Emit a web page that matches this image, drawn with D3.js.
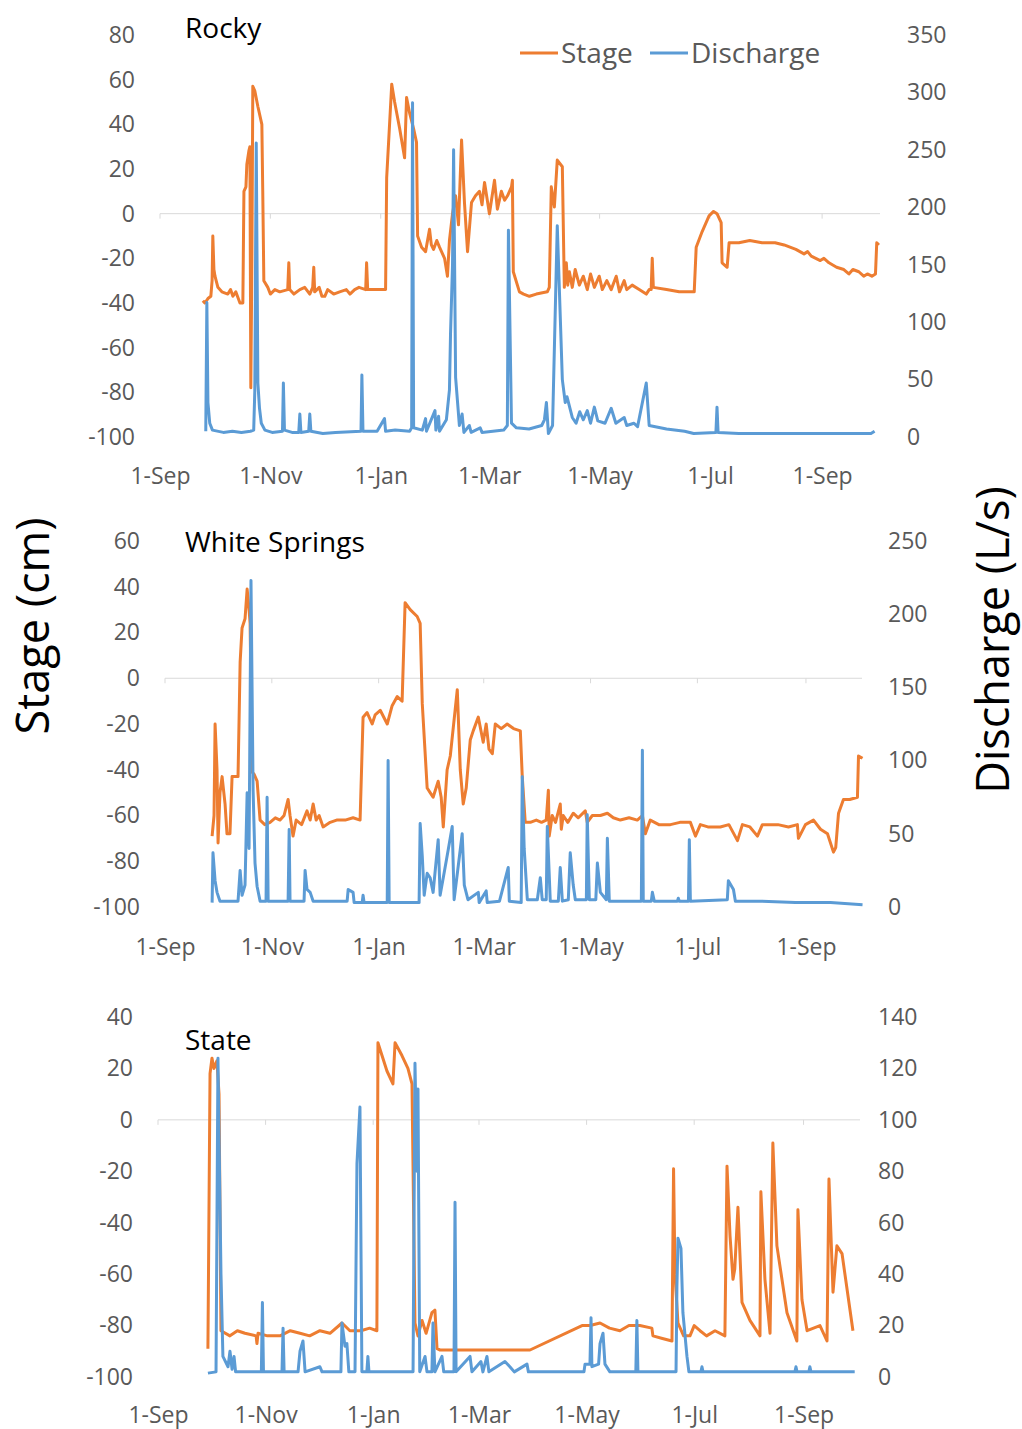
<!DOCTYPE html>
<html>
<head>
<meta charset="utf-8">
<script src="https://cdn.jsdelivr.net/npm/d3@7"></script>
<style>
  body { margin: 0; background: #fff; }
  svg { display: block; font-family: "Open Sans", sans-serif; }
</style>
</head>
<body>
<div id="chart"></div>
<script>
// Record starts 1 Sep 2015; x values are days since then
const startDate = '2015-09-01';
const tickDates = ['2015-09-01', '2015-11-01', '2016-01-01', '2016-03-01', '2016-05-01', '2016-07-01', '2016-09-01'];
const axisEnd = 398;

const panelNames = ['Rocky', 'White Springs', 'State'];
const stageTicks = [
    [80, 60, 40, 20, 0, -20, -40, -60, -80, -100],
    [60, 40, 20, 0, -20, -40, -60, -80, -100],
    [40, 20, 0, -20, -40, -60, -80, -100]
];
const dischargeTicks = [
    [0, 50, 100, 150, 200, 250, 300, 350],
    [0, 50, 100, 150, 200, 250],
    [0, 20, 40, 60, 80, 100, 120, 140]
];

// [day, stage cm]
const rockyStage = [[23.7,-39],[24.8,-40],[26.5,-38],[28.1,-37],[28.8,-30],[29.2,-10],[29.8,-25],[30.4,-28],[32,-33],[34.2,-35],[37.5,-36],[39,-34],[40.3,-37],[41.9,-35],[44.2,-40],[45.8,-40],[46.4,10],[47.5,12],[48,22],[49.1,28],[49.7,30],[50.2,-78],[50.8,-20],[51.3,57],[52.4,55],[54.1,48],[56.3,40],[56.8,10],[57.4,-30],[59.6,-33],[61,-36],[63.5,-34],[66.2,-35],[70.6,-34],[71.2,-22],[71.7,-34],[74,-36],[77.3,-34],[80,-33],[82.8,-36],[84.4,-33],[85,-24],[85.5,-35],[88,-33],[89.5,-37],[91.1,-37],[92.7,-34],[96,-36],[99.3,-35],[103,-34],[105,-36],[107.6,-34],[110,-33],[113.7,-34],[114.2,-22],[114.8,-34],[118,-34],[121.4,-34],[124.7,-34],[125.3,16],[126.9,40],[128.1,58],[129.7,50],[132.5,38],[135.2,25],[136.3,52],[138,45],[140.2,38],[141.8,32],[142.4,-10],[144.6,-15],[146.8,-17],[149,-7],[150,-14],[151.2,-16],[153,-12],[154.5,-15],[157.3,-20],[158.9,-28],[160,-12],[161.7,0],[163.4,8],[165,-5],[166.7,33],[168.3,5],[170,-17],[172.2,5],[174.4,8],[176.6,10],[178,4],[179.4,14],[182.1,0],[184.9,15],[186.5,2],[188.7,10],[190.5,6],[192.1,8],[194.3,12],[194.8,15],[195.3,-26],[198.7,-35],[201,-36],[204.2,-37],[208,-36],[214.1,-35],[215.2,-33],[216.3,12],[218,3],[219.6,24],[222.4,21],[223.5,-33],[224.6,-22],[225.4,-32],[226.3,-26],[227.9,-33],[229.5,-25],[231.8,-32],[234,-28],[236.2,-34],[238,-27],[240.1,-33],[242.8,-28],[244.5,-34],[247,-30],[249.4,-34],[252.2,-28],[254,-35],[256.6,-30],[258,-34],[261,-32],[264.9,-34],[268.8,-36],[270.4,-34],[271.5,-34],[272.1,-20],[272.7,-33],[280,-34],[287,-35],[292.5,-35],[295.3,-35],[296.4,-15],[299.7,-8],[303.5,-1],[306,1],[307.9,0],[310.2,-4],[310.7,-22],[313.5,-24],[314.6,-13],[320,-13],[326,-12],[332.8,-13],[340,-13],[345,-14],[351.5,-16],[356,-18],[358,-17],[360,-19],[365,-21],[367,-20],[369.8,-22],[374,-24],[378,-25],[380.8,-27],[383,-25],[386.3,-26],[389,-28],[391,-27],[393.5,-28],[395.5,-27],[396.2,-13],[397.4,-14]];

// [day, discharge L/s]
const rockyDischarge = [[25.3,5],[25.9,117],[26.5,30],[27.5,12],[29,6],[35,4],[40,5],[45,4],[50,5],[51.8,6],[52.4,40],[53.2,256],[54.1,47],[55,25],[56,12],[58,6],[62,4],[67.7,5],[68.2,47],[68.8,6],[73,4],[76.7,4],[77.3,20],[77.9,4],[82.2,5],[82.8,20],[83.4,5],[90,3],[97,4],[111.1,5],[111.6,54],[112.2,5],[120,5],[124.1,16],[124.7,5],[130,6],[138,5],[139.1,8],[139.6,291],[140.2,8],[145,6],[146.8,16],[147.3,5],[152,23],[152.5,6],[154,18],[154.5,5],[158.3,15],[160,41],[160.6,90],[161.7,150],[162.3,250],[163.4,52],[164.5,30],[165.5,10],[167,20],[168,4],[171,10],[172,4],[177,8],[178,4],[190,6],[192,10],[192.6,180],[194.3,12],[197,8],[204,7],[211,10],[212.5,15],[213.6,30],[214.7,3],[217,10],[219.6,184],[222.4,50],[224,30],[225,35],[227.9,17],[230,12],[232,22],[234,15],[236.2,23],[238,12],[240.1,26],[242,14],[246,12],[249.4,25],[252,12],[256.6,17],[258,10],[262,12],[264,9],[268.8,47],[270.4,10],[280,7],[290,5],[295,3],[307.3,4],[307.9,26],[308.5,4],[320,3],[350,3],[380,3],[393,3],[395,5]];

const whiteStage = [[26.9,-69],[28,-60],[28.6,-20],[29.7,-40],[30.3,-72],[31.4,-50],[32.6,-43],[34.3,-55],[35.4,-68],[37.1,-68],[38.3,-43],[41.7,-43],[42.9,7],[44,22],[45.7,26],[46.9,39],[48,30],[48.6,24],[49.7,-41],[50.9,-42],[52.6,-45],[54.3,-62],[57,-64],[60,-63],[63,-61],[65.7,-62],[68,-60],[70.3,-53],[71.4,-60],[73.1,-69],[74.9,-62],[78,-64],[81.1,-58],[82.9,-62],[84.6,-55],[86.3,-62],[88,-60],[90.3,-65],[94.3,-63],[98,-62],[102.9,-62],[107.4,-61],[111.4,-62],[113.1,-17],[115.4,-15],[118.3,-20],[120,-16],[122.9,-14],[126.9,-20],[129.7,-12],[132.6,-8],[135.4,-10],[137.1,33],[140,30],[144,27],[145.7,24],[146.9,-11],[149.7,-48],[151.4,-50],[153.1,-52],[156,-45],[157.7,-52],[158.9,-65],[161.1,-40],[162.9,-34],[166.9,-5],[168.6,-40],[170.3,-55],[172,-48],[174.3,-27],[176,-23],[178.9,-17],[181.7,-28],[183.4,-20],[185,-31],[186.9,-33],[188.6,-20],[192,-22],[195.4,-20],[199,-22],[202.9,-23],[204,-43],[205.7,-63],[208.6,-63],[212,-62],[215,-63],[217.7,-62],[218.9,-49],[219.4,-69],[221.1,-60],[223,-63],[225.7,-55],[226.3,-66],[227.4,-60],[230,-63],[233.1,-59],[236,-61],[240,-58],[241.1,-63],[244,-60],[248.6,-60],[252.6,-59],[256,-61],[260,-62],[265,-61],[269.7,-62],[272.6,-60],[274.3,-68],[277.1,-62],[282,-64],[288.6,-64],[294,-63],[300,-63],[302.9,-69],[305.7,-64],[310,-65],[317.1,-65],[322,-64],[326.9,-71],[329.7,-64],[334,-65],[338.3,-69],[341.1,-64],[350,-64],[356,-65],[361.1,-64],[361.7,-70],[365.7,-64],[370.3,-62],[374.3,-66],[378.3,-68],[381.7,-76],[383,-74],[384.6,-59],[387.4,-53],[391,-53],[395.4,-52],[396,-34],[398.3,-35]];

const whiteDischarge = [[26.9,3],[27.4,37],[28.6,18],[29.7,10],[31.4,4],[41.7,4],[42.9,25],[44,8],[45.7,15],[46.9,78],[48,40],[49.1,223],[50.3,80],[51.4,30],[52.6,14],[54.3,4],[57.7,4],[58.3,75],[58.9,4],[70.3,4],[70.9,53],[71.4,4],[79.4,4],[80,25],[81.1,12],[82.9,10],[84.6,4],[104,4],[104.6,12],[107.4,10],[108,3],[112.6,3],[113.1,8],[113.7,3],[126.9,3],[127.4,100],[128,3],[145.1,3],[145.7,57],[146.9,35],[148,8],[149.7,23],[151.4,20],[153.1,10],[156,46],[157.1,8],[158.9,20],[161.7,39],[164,55],[165.1,5],[169.7,50],[170.9,15],[173,5],[178.9,10],[179.4,3],[183.4,11],[184,3],[191,4],[196,27],[196.6,4],[203.4,3],[204,89],[205.1,40],[206.9,5],[212.6,5],[214.3,20],[215.4,5],[217.7,5],[218.3,55],[220,4],[224.6,4],[225.7,27],[226.9,4],[230.3,5],[231.4,37],[233.1,15],[234.3,5],[240.6,5],[241.1,63],[242.3,5],[246,5],[246.9,30],[248.6,10],[252,5],[252.6,47],[253.7,4],[272,4],[272.6,107],[273.1,4],[277.7,4],[278.3,10],[279.4,4],[292.6,4],[293.1,6],[293.7,4],[298.9,4],[299.4,46],[300,4],[321.1,5],[321.7,18],[324.6,12],[325.7,4],[340,4],[360,3],[380,3],[398.3,1.5]];

const stateStage = [[28.3,-89],[29.5,18],[30.6,24],[31.7,20],[33.4,23],[34.6,10],[35.7,-82],[40.8,-84],[45,-82],[49.3,-83],[55.6,-84],[56.1,-87],[56.7,-83],[62,-84],[69.2,-84],[75,-82],[80.5,-83],[86,-84],[91.8,-82],[97.5,-83],[104.3,-79],[108.8,-82],[115,-82],[120,-81],[124.1,-82],[124.7,30],[127,25],[129.8,19],[133.2,14],[134.4,30],[138.3,25],[141.7,20],[144,14],[145.7,-79],[147.4,-84],[149.7,-78],[152,-83],[155.3,-75],[157,-74],[158.2,-89],[159.9,-89.5],[210.9,-89.5],[240.4,-80],[245,-80],[250.6,-79],[256,-81],[261.9,-82],[267,-80],[273.2,-80],[280,-81],[280.6,-84],[286,-85],[291.4,-86],[292.3,-19],[293.1,-60],[294.8,-79],[298,-84],[301.6,-84],[304,-80],[307.3,-82],[311,-84],[315.8,-82],[321.4,-84],[322.6,-18],[324.3,-45],[326,-62],[327,-58],[328.8,-34],[331.1,-71],[335.6,-78],[341.3,-84],[341.8,-28],[344.1,-62],[347,-83],[348.6,-9],[350.9,-49],[356.6,-75],[362.2,-86],[362.8,-35],[365.1,-70],[368,-82],[375.3,-80],[379.3,-86],[380.4,-23],[382.7,-67],[384.9,-49],[387.8,-52],[394,-82]];

const stateDischarge = [[28.3,1.5],[32.9,2],[34,124],[35.7,40],[36.8,8],[39.7,4],[40.8,10],[42,3],[43.1,8],[44,2],[58.6,2],[59.2,29],[59.8,2],[70.3,2],[70.9,19],[71.5,2],[79.4,2],[80.5,10],[82.2,14],[83.4,2],[91.8,4],[93,2],[103.7,2],[104.3,21],[106,12],[107.1,13],[108.2,2],[111.7,2],[112.8,83],[114.5,105],[115.6,2],[118.4,2],[119,8],[119.6,2],[144.6,2],[145.7,122],[146.8,80],[147.4,112],[148.4,2],[151.4,8],[152.5,2],[155.3,2],[155.9,21],[157,2],[161,8],[162,2],[167.8,2],[168.4,68],[169,2],[176.9,8],[178,2],[183.1,6],[184.2,2],[186.5,8],[187.6,2],[196.7,6],[199.5,4],[202,2],[209.2,5],[210,2],[241.5,2],[242.1,5],[244.9,5],[245.5,23],[246,4],[249.8,5],[250.6,13],[252.3,17],[253.4,5],[256.2,2],[270.9,2],[271.5,22],[272.1,2],[293.7,2],[294.2,35],[294.8,54],[296.5,50],[297.6,25],[299.9,8],[301,2],[307.8,2],[308.4,4],[309,2],[361.1,2],[361.7,4],[362.3,2],[369,2],[369.6,4],[370.2,2],[395,2]];

const stageSeries = [rockyStage, whiteStage, stateStage];
const dischargeSeries = [rockyDischarge, whiteDischarge, stateDischarge];

// Layout of each panel (pixels)
const layout = [
    { x0: 160, x1: 880, yTop: 35, yBot: 437, leftX: 135, rightX: 907, dateY: 484, titleY: 38 },
    { x0: 165, x1: 862, yTop: 541, yBot: 907, leftX: 140, rightX: 888, dateY: 955, titleY: 552 },
    { x0: 158, x1: 860, yTop: 1017, yBot: 1377, leftX: 133, rightX: 878, dateY: 1423, titleY: 1050 }
];

const width = 1022;
const height = 1429;
const stageColor = '#ED7D31';
const dischargeColor = '#5B9BD5';
const labelColor = '#595959';

const t0 = new Date(startDate + 'T00:00:00');
const toDate = d => new Date(t0.getTime() + d * 864e5);
const ticks = tickDates.map(s => new Date(s + 'T00:00:00'));

const svg = d3.select('#chart').append('svg')
    .attr('width', width)
    .attr('height', height);

svg.append('rect').attr('width', width).attr('height', height).attr('fill', '#fff');

layout.forEach((p, i) => {
    const x = d3.scaleTime()
        .domain([t0, toDate(axisEnd)])
        .range([p.x0, p.x1]);
    const yStage = d3.scaleLinear()
        .domain(d3.extent(stageTicks[i]))
        .range([p.yBot, p.yTop]);
    const yDis = d3.scaleLinear()
        .domain(d3.extent(dischargeTicks[i]))
        .range([p.yBot, p.yTop]);

    const g = svg.append('g');

    // zero line of the stage axis with small month ticks
    g.append('line')
        .attr('x1', p.x0).attr('x2', p.x1)
        .attr('y1', yStage(0)).attr('y2', yStage(0))
        .attr('stroke', '#d9d9d9').attr('stroke-width', 1);
    g.selectAll('.mtick')
        .data(ticks)
        .enter()
        .append('line')
        .attr('x1', d => x(d)).attr('x2', d => x(d))
        .attr('y1', yStage(0)).attr('y2', yStage(0) + 5)
        .attr('stroke', '#d9d9d9').attr('stroke-width', 1);

    // left axis (plain hyphen for negatives, as in the original)
    const left = g.append('g')
        .attr('transform', `translate(${p.leftX},0)`)
        .call(d3.axisLeft(yStage).tickValues(stageTicks[i]).tickFormat(d => String(d)).tickSize(0).tickPadding(0));
    // right axis
    const right = g.append('g')
        .attr('transform', `translate(${p.rightX},0)`)
        .call(d3.axisRight(yDis).tickValues(dischargeTicks[i]).tickFormat(d => String(d)).tickSize(0).tickPadding(0));
    // date axis
    const bottom = g.append('g')
        .attr('transform', `translate(0,${p.dateY})`)
        .call(d3.axisBottom(x).tickValues(ticks).tickFormat(d3.timeFormat('%-d-%b')).tickSize(0).tickPadding(0));
    bottom.selectAll('text').attr('y', 0).attr('dy', 0);

    [left, right, bottom].forEach(a => {
        a.select('.domain').remove();
        a.selectAll('text')
            .attr('fill', labelColor)
            .style('font-family', '"Open Sans", sans-serif')
            .style('font-size', '23px');
    });

    const stageLine = d3.line()
        .x(d => x(toDate(d[0])))
        .y(d => yStage(d[1]));
    const disLine = d3.line()
        .x(d => x(toDate(d[0])))
        .y(d => yDis(d[1]));

    g.append('path')
        .datum(stageSeries[i])
        .attr('d', stageLine)
        .attr('fill', 'none')
        .attr('stroke', stageColor)
        .attr('stroke-width', 3)
        .attr('stroke-linejoin', 'round');

    g.append('path')
        .datum(dischargeSeries[i])
        .attr('d', disLine)
        .attr('fill', 'none')
        .attr('stroke', dischargeColor)
        .attr('stroke-width', 3)
        .attr('stroke-linejoin', 'round');

    // panel title
    g.append('text')
        .attr('x', 185)
        .attr('y', p.titleY)
        .style('font-size', '28px')
        .attr('fill', '#000')
        .text(panelNames[i]);
});

// Legend (top panel)
const legendItems = [
    { label: 'Stage', color: stageColor, x: 520 },
    { label: 'Discharge', color: dischargeColor, x: 650 }
];
const legend = svg.selectAll('.legend')
    .data(legendItems)
    .enter()
    .append('g')
    .attr('class', 'legend')
    .attr('transform', d => `translate(${d.x},53)`);
legend.append('line')
    .attr('x1', 0).attr('x2', 38)
    .attr('stroke', d => d.color)
    .attr('stroke-width', 3);
legend.append('text')
    .attr('x', 41)
    .attr('y', 10)
    .style('font-size', '28px')
    .attr('fill', labelColor)
    .text(d => d.label);

// Axis titles
svg.append('text')
    .attr('transform', 'translate(49,626) rotate(-90)')
    .attr('text-anchor', 'middle')
    .style('font-size', '45px')
    .attr('fill', '#000')
    .text('Stage (cm)');

svg.append('text')
    .attr('transform', 'translate(1009,640) rotate(-90)')
    .attr('text-anchor', 'middle')
    .style('font-size', '45px')
    .attr('fill', '#000')
    .text('Discharge (L/s)');
</script>
</body>
</html>
